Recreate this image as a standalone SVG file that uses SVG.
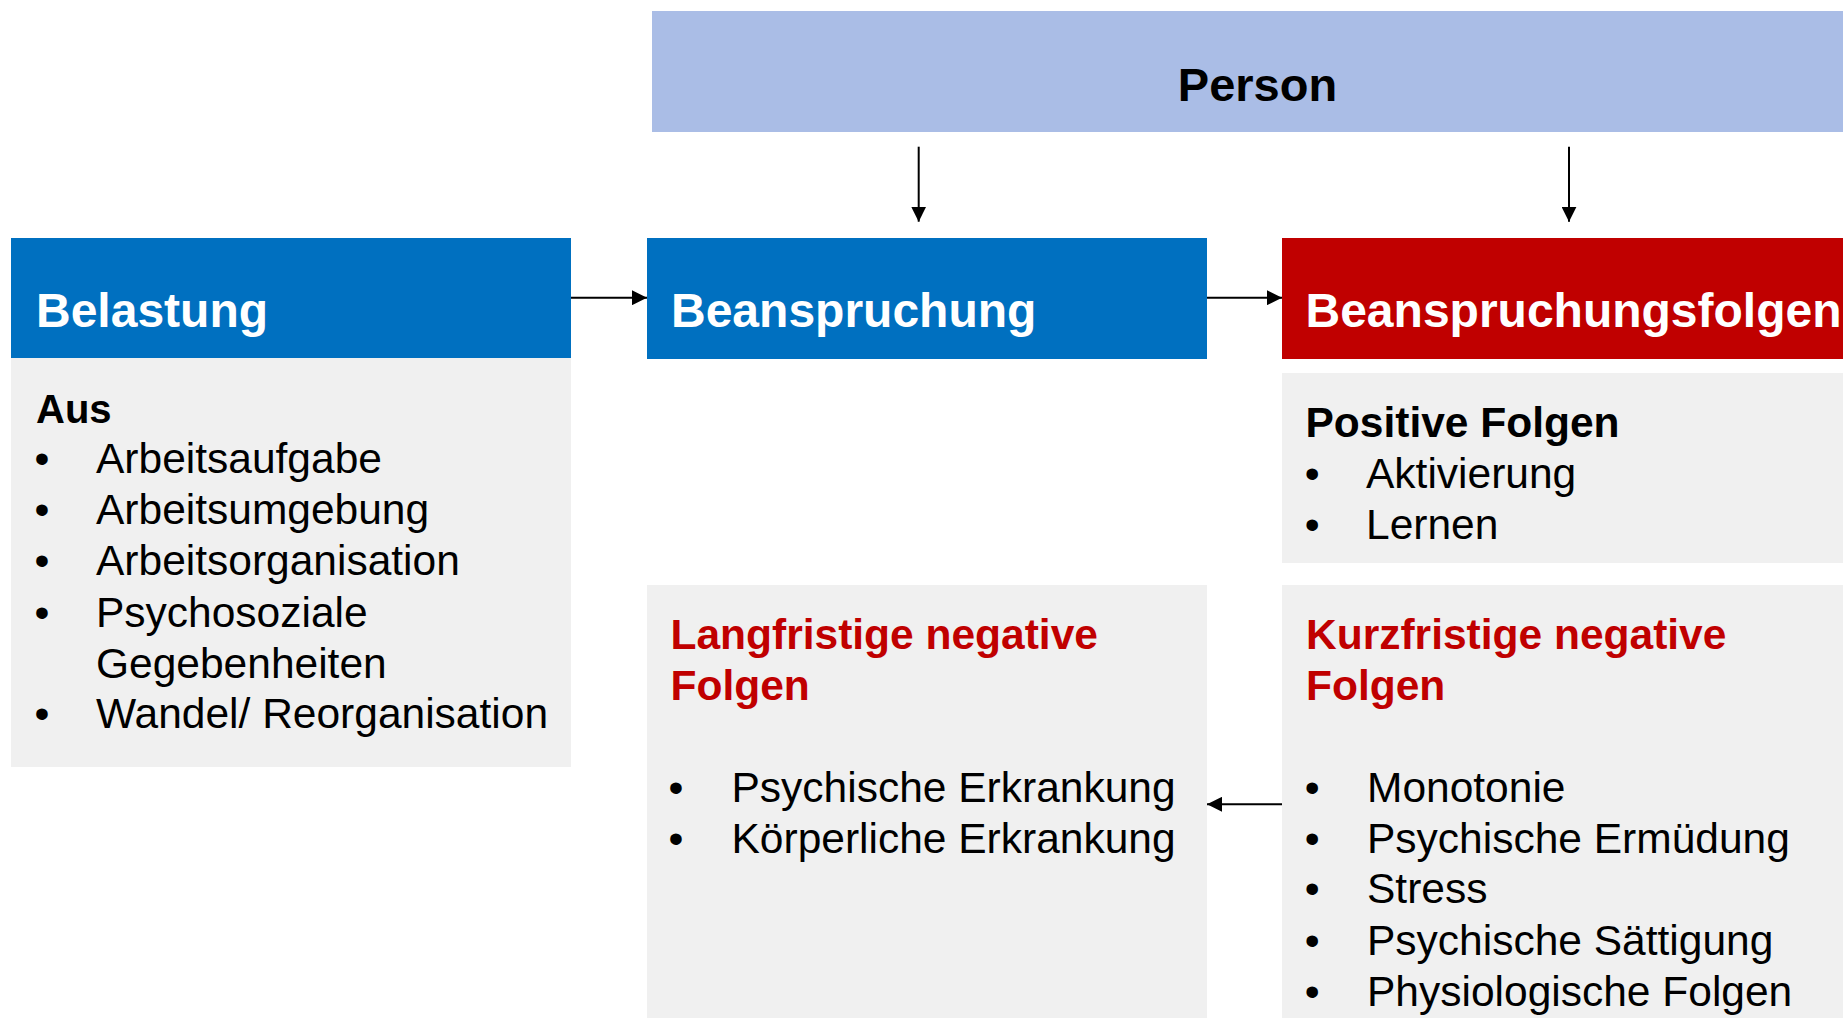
<svg xmlns="http://www.w3.org/2000/svg" width="1843" height="1018" viewBox="0 0 1843 1018">
<style>
.t{font-family:"Liberation Sans",Arial,sans-serif}
.h{font-family:"Liberation Sans",Arial,sans-serif;font-weight:bold;font-size:48px;fill:#fff}
.b{font-family:"Liberation Sans",Arial,sans-serif;font-weight:bold;font-size:40px;fill:#000}
.r{font-family:"Liberation Sans",Arial,sans-serif;font-weight:bold;font-size:42.5px;fill:#C00000}
.n{font-family:"Liberation Sans",Arial,sans-serif;font-size:42.5px;fill:#000}
.grey{fill:#F0F0F0}
.con{stroke:#000;stroke-width:2;fill:none}
</style>
<defs>
<marker id="ah" markerUnits="userSpaceOnUse" markerWidth="15" markerHeight="15" refX="15" refY="7.5" orient="auto">
<path d="M0,0 L15,7.5 L0,15 z" fill="#000"/>
</marker>
</defs>
<rect width="1843" height="1018" fill="#fff"/>
<g id="person">
<rect x="652" y="11" width="1191" height="121" fill="#AABDE6"/>
<text class="t" x="1257.5" y="101" text-anchor="middle" font-weight="bold" font-size="47">Person</text>
</g>
<g id="belastung">
<rect x="11" y="238" width="560" height="120" fill="#0070C0"/>
<text class="h" x="36" y="326.7">Belastung</text>
<rect class="grey" x="11" y="358" width="560" height="409"/>
<text class="b" x="36" y="422.7">Aus</text>
<g class="n">
<text x="34.5" y="473">•</text><text x="96" y="473">Arbeitsaufgabe</text>
<text x="34.5" y="524">•</text><text x="96" y="524">Arbeitsumgebung</text>
<text x="34.5" y="575">•</text><text x="96" y="575">Arbeitsorganisation</text>
<text x="34.5" y="626.5">•</text><text x="96" y="626.5">Psychosoziale</text>
<text x="96" y="677.5">Gegebenheiten</text>
<text x="34.5" y="728.3">•</text><text x="96" y="728.3">Wandel/ Reorganisation</text>
</g>
</g>
<g id="beanspruchung">
<rect x="647" y="238" width="560" height="121" fill="#0070C0"/>
<text class="h" x="671" y="326.7">Beanspruchung</text>
</g>
<g id="beanspruchungsfolgen">
<rect x="1282" y="238" width="561" height="121" fill="#C00000"/>
<text class="h" x="1305.5" y="326.7">Beanspruchungsfolgen</text>
</g>
<g id="positive">
<rect class="grey" x="1282" y="373" width="561" height="190"/>
<text class="b" x="1305.5" y="437.3" style="font-size:42.5px">Positive Folgen</text>
<g class="n">
<text x="1304.7" y="488.3">•</text><text x="1366" y="488.3">Aktivierung</text>
<text x="1304.7" y="539.3">•</text><text x="1366" y="539.3">Lernen</text>
</g>
</g>
<g id="langfristig">
<rect class="grey" x="647" y="585" width="560" height="433"/>
<text class="r" x="670.5" y="649.3">Langfristige negative</text>
<text class="r" x="670.5" y="700">Folgen</text>
<g class="n">
<text x="668.5" y="801.7">•</text><text x="731.5" y="801.7">Psychische Erkrankung</text>
<text x="668.5" y="852.7">•</text><text x="731.5" y="852.7">Körperliche Erkrankung</text>
</g>
</g>
<g id="kurzfristig">
<rect class="grey" x="1282" y="585" width="561" height="433"/>
<text class="r" x="1306" y="649.3">Kurzfristige negative</text>
<text class="r" x="1306" y="700">Folgen</text>
<g class="n">
<text x="1304.7" y="801.7">•</text><text x="1367" y="801.7">Monotonie</text>
<text x="1304.7" y="852.7">•</text><text x="1367" y="852.7">Psychische Ermüdung</text>
<text x="1304.7" y="903.3">•</text><text x="1367" y="903.3">Stress</text>
<text x="1304.7" y="955">•</text><text x="1367" y="955">Psychische Sättigung</text>
<text x="1304.7" y="1006">•</text><text x="1367" y="1006">Physiologische Folgen</text>
</g>
</g>
<g id="connectors">
<line class="con" x1="571" y1="297.7" x2="647" y2="297.7" marker-end="url(#ah)"/>
<line class="con" x1="1207" y1="297.7" x2="1282" y2="297.7" marker-end="url(#ah)"/>
<line class="con" x1="918.7" y1="146.7" x2="918.7" y2="221.7" marker-end="url(#ah)"/>
<line class="con" x1="1569" y1="146.7" x2="1569" y2="221.7" marker-end="url(#ah)"/>
<line class="con" x1="1282" y1="804.3" x2="1207" y2="804.3" marker-end="url(#ah)"/>
</g>
</svg>
